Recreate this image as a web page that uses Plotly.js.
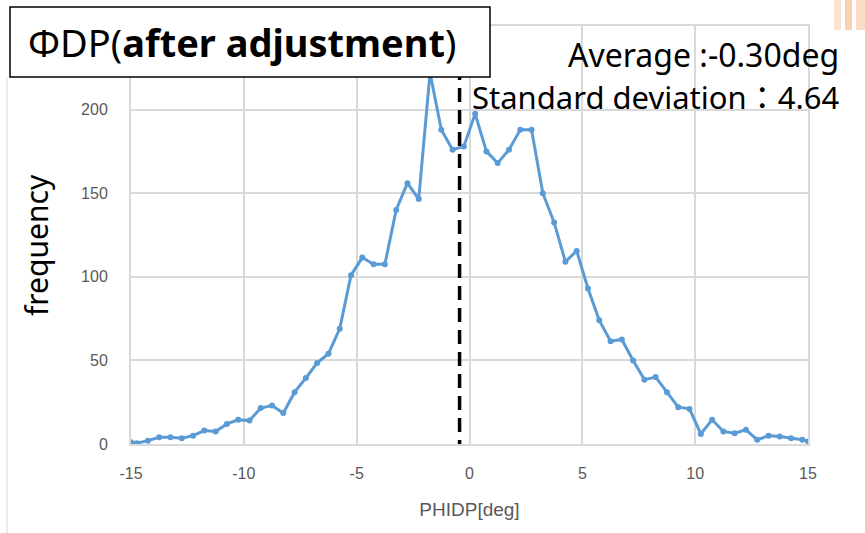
<!DOCTYPE html>
<html>
<head>
<meta charset="utf-8">
<script src="https://cdn.plot.ly/plotly-3.0.1.min.js"></script>
<style>html,body{margin:0;padding:0;background:#fff;}#chart{width:865px;height:533px;}</style>
</head>
<body>
<div id="chart"></div>
<script>
// Histogram bin centers (deg) and counts
const phidp = [-15, -14.75, -14.25, -13.75, -13.25, -12.75, -12.25, -11.75, -11.25, -10.75, -10.25,
  -9.75, -9.25, -8.75, -8.25, -7.75, -7.25, -6.75, -6.25, -5.75, -5.25,
  -4.75, -4.25, -3.75, -3.25, -2.75, -2.25, -1.75, -1.25, -0.75, -0.25,
  0.25, 0.75, 1.25, 1.75, 2.25, 2.75, 3.25, 3.75, 4.25, 4.75,
  5.25, 5.75, 6.25, 6.75, 7.25, 7.75, 8.25, 8.75, 9.25, 9.75,
  10.25, 10.75, 11.25, 11.75, 12.25, 12.75, 13.25, 13.75, 14.25, 14.75, 15];
const frequency = [1, 0.5, 2, 4, 4, 3.5, 5, 8, 7.5, 12, 14.5,
  14, 21.5, 23, 18.5, 31, 39.5, 48.5, 54, 69, 101,
  111.5, 107.5, 107.5, 140, 156, 146.5, 222, 188, 176, 178,
  197.5, 175, 168, 176, 188, 188, 150, 132.5, 109, 115.5,
  93, 74, 61.5, 62.5, 50, 38.5, 40, 31, 22, 21,
  6, 14.5, 7.5, 6.5, 8.5, 2.5, 5, 4.5, 3.5, 2.5, 1.5];
const averageLine = -0.44;
const xTicks = [-15, -10, -5, 0, 5, 10, 15];
const yTicks = [0, 50, 100, 150, 200];
const titleText = 'ΦDP(<b>after adjustment</b>)';
const avgText = 'Average :-0.30deg';
const stdText = 'Standard deviation：4.64';
const xTitle = 'PHIDP[deg]';
const yTitle = 'frequency';

// plot area in px: x 131..808, y 26..444
const L = 131, R = 808, T = 26, B = 444;
const px = v => (v - L) / (R - L);
const py = v => (B - v) / (B - T);

const trace = {
  x: phidp, y: frequency, type: 'scatter', mode: 'lines+markers',
  line: {color: '#5b9bd5', width: 3},
  marker: {color: '#5b9bd5', size: 6},
  hoverinfo: 'x+y'
};

const tickFont = {family: 'Liberation Sans, sans-serif', size: 16, color: '#595959'};

const layout = {
  width: 865, height: 533,
  margin: {l: L, r: 865 - R, t: T, b: 533 - B},
  paper_bgcolor: '#ffffff', plot_bgcolor: '#ffffff',
  showlegend: false,
  xaxis: {
    range: [-15, 15], tickvals: xTicks, ticktext: xTicks.map(String),
    showgrid: true, gridcolor: '#d9d9d9', gridwidth: 2,
    zeroline: false, showline: true, linecolor: '#d9d9d9', linewidth: 2, mirror: true,
    ticks: '', tickfont: tickFont, ticklabelstandoff: 14,
    title: {text: xTitle, font: {family: 'Liberation Sans, sans-serif', size: 19, color: '#595959'}, standoff: 21},
    automargin: false
  },
  yaxis: {
    range: [0, 250], tickvals: yTicks, ticktext: yTicks.map(String),
    showgrid: true, gridcolor: '#d9d9d9', gridwidth: 2,
    zeroline: false, showline: true, linecolor: '#d9d9d9', linewidth: 2, mirror: true,
    ticks: '', tickfont: tickFont, ticklabelstandoff: 18,
    automargin: false
  },
  shapes: [
    {type: 'line', xref: 'x', yref: 'y', x0: averageLine, x1: averageLine, y0: -6, y1: 250,
     line: {color: '#000000', width: 3.5, dash: '14px,8px'}, layer: 'above'},
    {type: 'rect', xref: 'paper', yref: 'paper', x0: px(10), x1: px(490), y0: py(77), y1: py(7),
     fillcolor: '#ffffff', line: {color: '#000000', width: 1.5}, layer: 'above'},
    {type: 'line', xref: 'paper', yref: 'paper', x0: px(7), x1: px(7), y0: py(533), y1: py(77),
     line: {color: '#d9d9d9', width: 1}, layer: 'above'},
    {type: 'rect', xref: 'paper', yref: 'paper', x0: px(834), x1: px(841), y0: py(30), y1: py(0),
     fillcolor: '#fbe3cf', line: {width: 0}, layer: 'above'},
    {type: 'rect', xref: 'paper', yref: 'paper', x0: px(845), x1: px(852), y0: py(30), y1: py(0),
     fillcolor: '#f8d3b3', line: {width: 0}, layer: 'above'},
    {type: 'rect', xref: 'paper', yref: 'paper', x0: px(856), x1: px(865), y0: py(30), y1: py(0),
     fillcolor: '#f9dcc4', line: {width: 0}, layer: 'above'}
  ],
  annotations: [
    {xref: 'paper', yref: 'paper', x: px(26), y: py(42), xanchor: 'left', yanchor: 'middle',
     text: titleText, showarrow: false,
     font: {family: 'Noto Sans, sans-serif', size: 38, color: '#000000'}},
    {xref: 'paper', yref: 'paper', x: px(841), y: py(55), xanchor: 'right', yanchor: 'middle',
     text: avgText, showarrow: false,
     font: {family: 'Noto Sans, Noto Sans CJK JP, sans-serif', size: 32, color: '#000000'}},
    {xref: 'paper', yref: 'paper', x: px(841), y: py(97), xanchor: 'right', yanchor: 'middle',
     text: stdText, showarrow: false,
     font: {family: 'Noto Sans, Noto Sans CJK JP, sans-serif', size: 31, color: '#000000'}},
    {xref: 'paper', yref: 'paper', x: px(36), y: py(245), xanchor: 'center', yanchor: 'middle',
     text: yTitle, textangle: -90, showarrow: false,
     font: {family: 'Noto Sans, sans-serif', size: 30, color: '#000000'}}
  ]
};

Plotly.newPlot('chart', [trace], layout, {displayModeBar: false, staticPlot: true});
</script>
</body>
</html>
